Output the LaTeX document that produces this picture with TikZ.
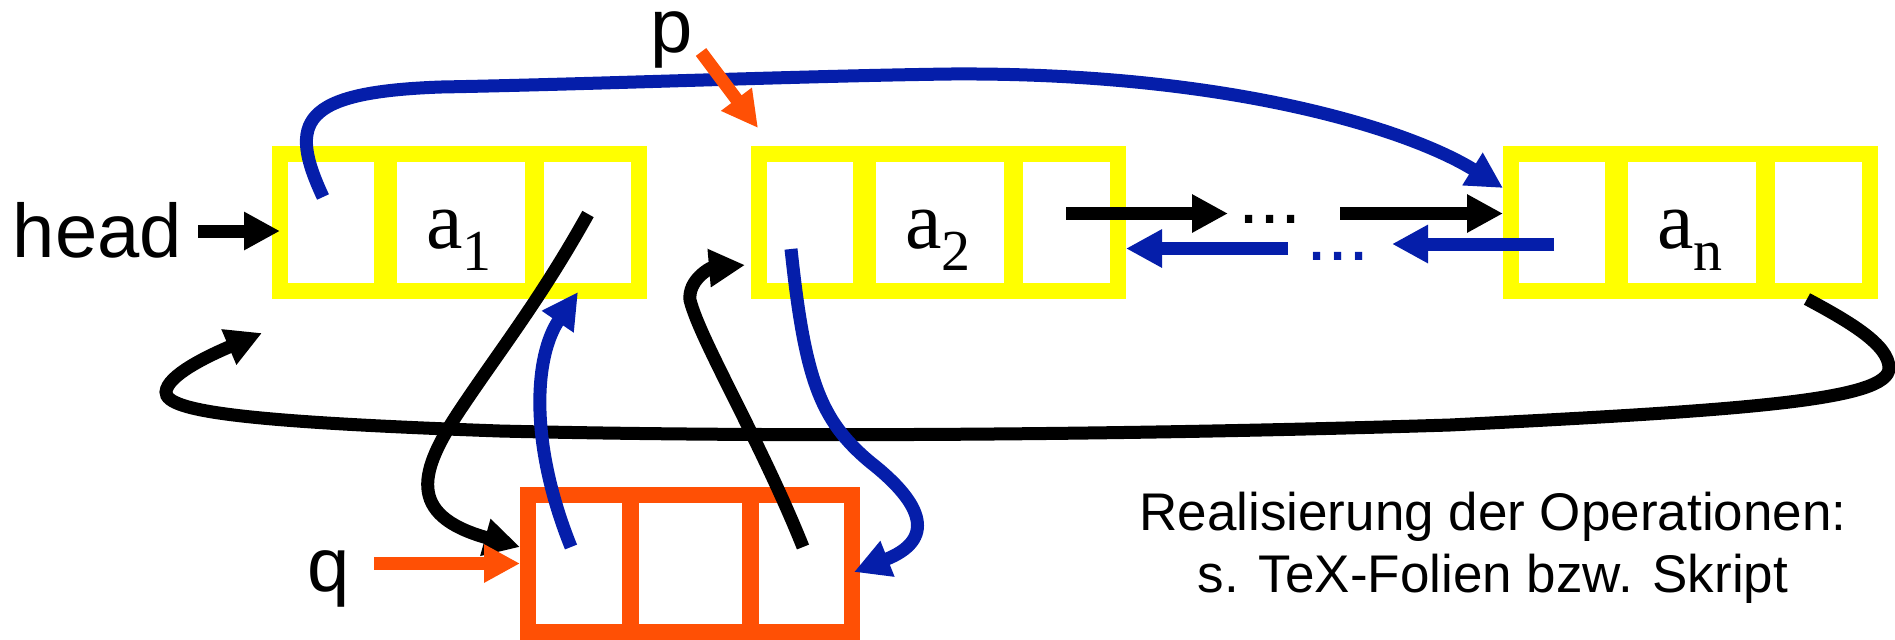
\documentclass[tikz,border=0pt]{standalone}
\usepackage{fontspec}
\newfontfamily\sansf{Liberation Sans}
\newfontfamily\seriff{Liberation Serif}
\usetikzlibrary{arrows.meta,calc}
\definecolor{yel}{RGB}{255,255,0}
\definecolor{org}{RGB}{255,80,5}
\definecolor{blu}{RGB}{5,30,170}
\newcommand\aelem[1]{a\raisebox{-11.25pt}{\fontsize{29}{29}\selectfont #1}}
\begin{document}
\begin{tikzpicture}[x=0.5pt,y=-0.5pt,
  cell/.style={draw=yel,line width=8pt,minimum height=68.5pt,inner sep=0pt},
  ocell/.style={draw=org,line width=8pt,minimum height=68.5pt,inner sep=0pt},
  arr/.style={line width=6.5pt,-{Triangle[length=18pt,width=18pt]}},
  big/.style={font=\sansf\fontsize{38}{38}\selectfont,inner sep=0pt},
  small/.style={font=\sansf\fontsize{26.5}{26.5}\selectfont,inner sep=0pt},
  elt/.style={font=\seriff\fontsize{41}{41}\selectfont,inner sep=0pt,anchor=base}]
\useasboundingbox (0,0) rectangle (1895,639);

% yellow list elements
\foreach \n/\dx in {1/0,2/479,3/1231}{
  \node[cell,minimum width=54.5pt] (b\n c1) at (334.5+\dx,222.5) {};
  \node[cell,minimum width=77pt]   (b\n c2) at (459+\dx,222.5) {};
  \node[cell,minimum width=53pt]   (b\n c3) at (586+\dx,222.5) {};
}
\node[elt] (l1) at (459,248) {\aelem{1}};
\node[elt] (l2) at (938,248) {\aelem{2}};
\node[elt] (l3) at (1690,248) {\aelem{n}};

% orange new element
\node[ocell,minimum width=51.5pt] (o1) at (579.5,563.5) {};
\node[ocell,minimum width=60.5pt] (o2) at (690.5,563.5) {};
\node[ocell,minimum width=51pt]   (o3) at (801,563.5) {};

% labels
\node[big,anchor=base west] (head) at (12.5,257) {head};
\node[big,anchor=base west] (p) at (650,52) {p};
\node[big,anchor=base west] (q) at (307.5,591) {q};
\node[big,anchor=base west] (dk) at (1238,223) {...};
\node[big,anchor=base west,text=blu] (db) at (1306,260) {...};
\node[small,anchor=base] (t1) at (1493,530) {Realisierung der Operationen:};
\node[small,anchor=base] (t2) at (1493,592) {s. TeX-Folien bzw. Skript};

% free ends
\coordinate (hs) at (198,231);
\coordinate (he) at ($(b1c1.west)+(8,8.5)$);
\coordinate (ps) at (701,52);
\coordinate (pe) at (758,128);
\coordinate (qs) at (374,563.5);
\coordinate (k1s) at ($(b3c3.south)+(-10,0)$);
\coordinate (k1e) at (262,333);
\coordinate (b1s) at (323,197);
\coordinate (b1e) at ($(b3c1.north west)+(0,42)$);
\coordinate (k2s) at (588,214);
\coordinate (k2e) at ($(o1.west)+(0,-16.5)$);
\coordinate (b2s) at (571,547);
\coordinate (b2e) at (578,292);
\coordinate (k3s) at (803,547);
\coordinate (k3e) at (745,265);
\coordinate (b3s) at (791,249);
\coordinate (b3e) at ($(o3.east)+(-6,8.5)$);
\coordinate (f1s) at (1066,213.5);
\coordinate (f1e) at ($(dk.west)+(-10,0)$);
\coordinate (f2s) at (1340,213.5);
\coordinate (f2e) at ($(b3c1.west)+(0,-9)$);
\coordinate (r1s) at (1554,244);
\coordinate (r1e) at (1392,244);
\coordinate (r2s) at (1288,248.5);
\coordinate (r2e) at ($(b2c3.east)+(0,26)$);

% connectors
\draw[arr] (k1s) .. controls (1850,322) and (1889,345) .. (1889,368)
  .. controls (1889,400) and (1750,410) .. (1450,425)
  .. controls (1100,436) and (750,437) .. (500,431)
  .. controls (250,422) and (165,412) .. (166,392)
  .. controls (167,375) and (210,355) .. (k1e);
\draw[arr,blu] (b1s) .. controls (288,122) and (300,92) .. (441,87)
  .. controls (600,84) and (800,76) .. (950,74)
  .. controls (1230,72) and (1410,130) .. (b1e);
\draw[arr] (k2s) .. controls (540,300) and (500,350) .. (460,410)
  .. controls (420,470) and (405,515) .. (k2e);
\draw[arr,blu] (b2s) .. controls (528,440) and (535,355) .. (b2e);
\draw[arr] (k3s) .. controls (760,440) and (700,340) .. (690,300)
  .. controls (688,280) and (710,268) .. (k3e);
\draw[arr,blu] (b3s) .. controls (805,380) and (820,420) .. (870,462)
  .. controls (925,505) and (935,540) .. (b3e);
\draw[arr] (hs) -- (he);
\draw[arr] (f1s) -- (f1e |- f1s);
\draw[arr] (f2s) -- (f2e);
\draw[arr,blu] (r1s) -- (r1e);
\draw[arr,blu] (r2s) -- (r2e);
\draw[arr,org] (qs) -- (o1.west);
\draw[arr,org] (ps) -- (pe);
\end{tikzpicture}
\end{document}
